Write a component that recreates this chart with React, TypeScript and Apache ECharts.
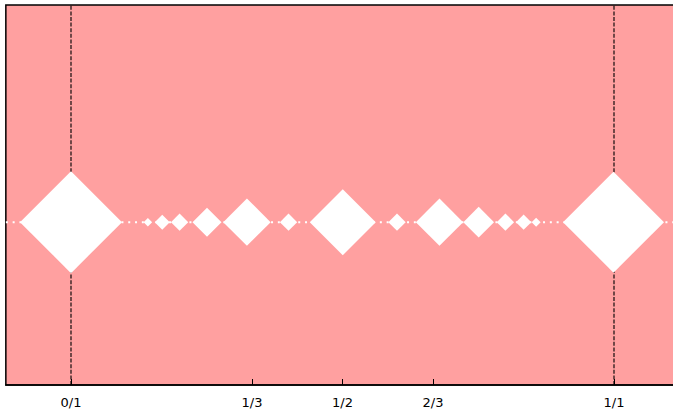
import React, { useEffect, useRef } from "react";
import * as echarts from "echarts";

// Fractions shown as diamonds, their positions on the axis, and marker weights (px)
const fractions = ["0/1", "1/7", "1/6", "1/5", "1/4", "1/3", "2/5", "1/2", "3/5", "2/3", "3/4", "4/5", "5/6", "6/7", "1/1"];
const positions = [0, 0.1416, 0.1681, 0.2, 0.2505, 0.324, 0.4006, 0.5005, 0.6004, 0.6786, 0.7508, 0.8, 0.8336, 0.8566, 0.9991];
const markerWeight = [102, 8.5, 15, 17.3, 29, 47.4, 17.3, 66, 17.3, 47.3, 30.7, 17.3, 15.3, 9, 101];

// Tick values and labels
const tickValues = [0, 1 / 3, 1 / 2, 2 / 3, 1];
const tickLabels = ["0/1", "1/3", "1/2", "2/3", "1/1"];

const X_MIN = -0.12;
const X_MAX = 1.12;
const Y_MIN = -0.75;
const Y_MAX = 1;

export default function App() {
  const ref = useRef<HTMLDivElement>(null);
  useEffect(() => {
    document.body.style.margin = "0";
    if (!ref.current) return;
    const chart = echarts.init(ref.current, undefined, { renderer: "svg" });
    const scatterData = positions.map((x, i) => ({ value: [x, 0], name: fractions[i], w: markerWeight[i] }));
    const option: any = {
      animation: false,
      grid: {
        left: 71 + X_MIN * 543,
        top: 5,
        width: (X_MAX - X_MIN) * 543,
        height: 380,
        show: true,
        backgroundColor: "#ffa0a0",
        borderColor: "#000",
        borderWidth: 1.5,
      },
      xAxis: {
        type: "value",
        min: X_MIN,
        max: X_MAX,
        splitLine: { show: false },
        axisLine: { show: true, onZero: false, lineStyle: { color: "#000", width: 1.5 } },
        axisTick: {
          show: true,
          inside: true,
          length: 6,
          customValues: tickValues,
          lineStyle: { color: "#000", width: 1 },
        },
        axisLabel: {
          show: true,
          customValues: tickValues,
          margin: 11,
          color: "#000",
          fontSize: 13,
          fontFamily: "DejaVu Sans",
          formatter: (v: number) => {
            const idx = tickValues.findIndex((t) => Math.abs(t - v) < 1e-6);
            return idx >= 0 ? tickLabels[idx] : "";
          },
        },
      },
      yAxis: {
        type: "value",
        min: Y_MIN,
        max: Y_MAX,
        show: false,
        splitLine: { show: false },
      },
      series: [
        {
          type: "line",
          data: [
            [X_MIN, 0],
            [X_MAX, 0],
          ],
          symbol: "none",
          z: 1,
          lineStyle: { color: "#fff", width: 2, type: [2, 4.8] },
          silent: true,
        },
        {
          type: "line",
          data: [
            [0, Y_MIN],
            [0, Y_MAX],
          ],
          symbol: "none",
          z: 2,
          lineStyle: { color: "rgba(0,0,0,0.8)", width: 1.4, type: [4, 1.6] },
          silent: true,
        },
        {
          type: "line",
          data: [
            [1, Y_MIN],
            [1, Y_MAX],
          ],
          symbol: "none",
          z: 2,
          lineStyle: { color: "rgba(0,0,0,0.8)", width: 1.4, type: [4, 1.6] },
          silent: true,
        },
        {
          type: "scatter",
          data: scatterData,
          symbol: "diamond",
          symbolSize: (_v: any, p: any) => [p.data.w, p.data.w],
          itemStyle: { color: "#fff", opacity: 1 },
          z: 3,
          silent: true,
        },
      ],
    };
    chart.setOption(option);
    return () => chart.dispose();
  }, []);
  return (
    <div style={{ width: 673, height: 411, overflow: "hidden", position: "relative" }}>
      <div ref={ref} style={{ width: 700, height: 411 }} />
    </div>
  );
}
